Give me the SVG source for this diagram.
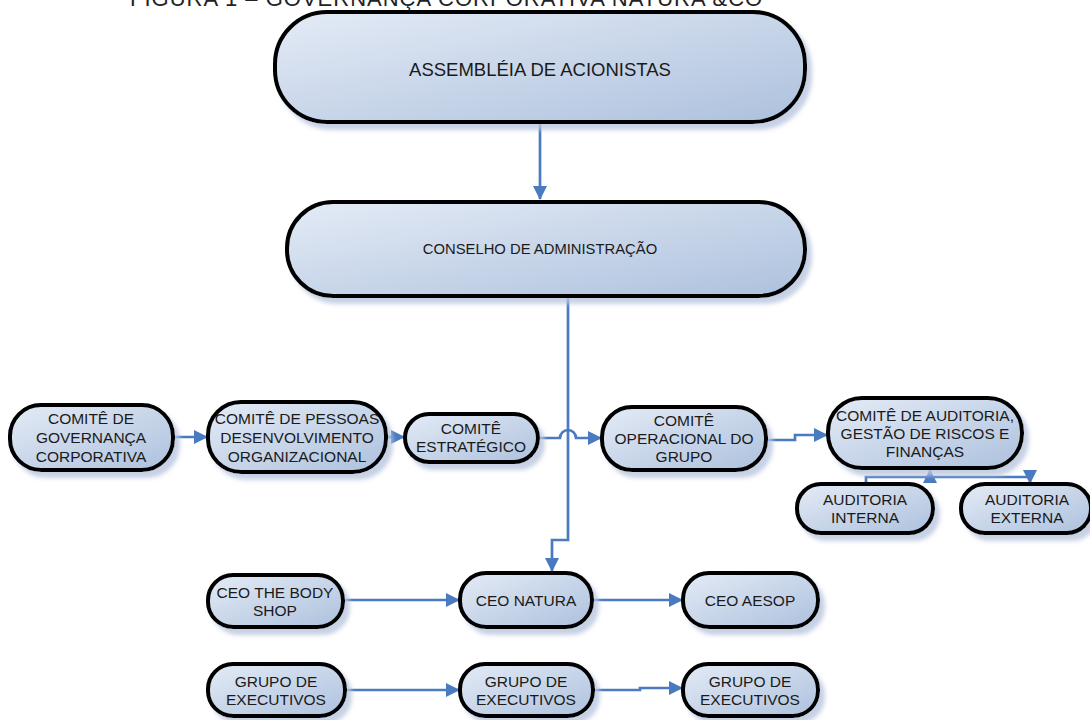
<svg xmlns="http://www.w3.org/2000/svg" width="1090" height="720" viewBox="0 0 1090 720">
<defs>
<linearGradient id="g" x1="0" y1="0" x2="1" y2="1">
<stop offset="0" stop-color="#e4ebf6"/>
<stop offset="1" stop-color="#adc1dd"/>
</linearGradient>
<filter id="sh" x="-10%" y="-20%" width="130%" height="150%">
<feDropShadow dx="5" dy="6" stdDeviation="2" flood-color="#b9c6df" flood-opacity="0.8"/>
</filter>
<marker id="ahb" markerWidth="14" markerHeight="14" refX="13" refY="7" orient="auto" markerUnits="userSpaceOnUse" viewBox="0 0 14 14">
<path d="M0,0 L14,7 L0,14 z" fill="#4a7bc0"/>
</marker>
</defs>
<style>
.n{fill:url(#g);stroke:#000;stroke-width:4;filter:url(#sh)}
.t{font-family:"Liberation Sans",Arial,sans-serif;font-size:15.5px;fill:#1a1a1a;text-anchor:middle;dominant-baseline:central}
.c{fill:none;stroke:#4a7bc0;stroke-width:2.7}
.title{font-family:"Liberation Sans",Arial,sans-serif;font-size:22px;fill:#222;letter-spacing:1px}
</style>
<text class="title" x="130" y="6">FIGURA 1 – GOVERNANÇA CORPORATIVA NATURA &amp;CO</text>
<g id="connectors">
<path class="c" d="M540,122 V199" marker-end="url(#ahb)"/>
<path class="c" d="M568,296 V540 H552 V571" marker-end="url(#ahb)"/>
<path class="c" d="M173,437 H207" marker-end="url(#ahb)"/>
<path class="c" d="M386,437 H404" marker-end="url(#ahb)"/>
<path class="c" d="M538,438 H560 A8,8 0 0 1 576,438 H601" marker-end="url(#ahb)"/>
<path class="c" d="M766,440 H795 V435 H827" marker-end="url(#ahb)"/>
<path class="c" d="M866,484 V477 H1030 V483" marker-end="url(#ahb)"/>
<path class="c" d="M930,477 V470" marker-end="url(#ahb)"/>
<path class="c" d="M343,600 H459" marker-end="url(#ahb)"/>
<path class="c" d="M592,600 H682" marker-end="url(#ahb)"/>
<path class="c" d="M345,690 H459" marker-end="url(#ahb)"/>
<path class="c" d="M593,690 H640 V688 H682" marker-end="url(#ahb)"/>
</g>
<g id="assembleia"><rect class="n" x="275" y="12" width="530" height="110" rx="52"/><text class="t" x="540" y="69" style="font-size:18.5px">ASSEMBLÉIA DE ACIONISTAS</text></g>
<g id="conselho"><rect class="n" x="287" y="202" width="518" height="94" rx="46"/><text class="t" x="540" y="249" style="font-size:14.8px">CONSELHO DE ADMINISTRAÇÃO</text></g>
<g id="gov"><rect class="n" x="10" y="405" width="163" height="65" rx="31"/><text class="t" x="91" y="418">COMITÊ DE</text><text class="t" x="91" y="437">GOVERNANÇA</text><text class="t" x="91" y="456">CORPORATIVA</text></g>
<g id="pessoas"><rect class="n" x="208" y="402" width="178" height="70" rx="33"/><text class="t" x="297" y="418">COMITÊ DE PESSOAS</text><text class="t" x="297" y="437">DESENVOLVIMENTO</text><text class="t" x="297" y="456">ORGANIZACIONAL</text></g>
<g id="estrategico"><rect class="n" x="405" y="414" width="133" height="48" rx="24"/><text class="t" x="471" y="428">COMITÊ</text><text class="t" x="471" y="446">ESTRATÉGICO</text></g>
<g id="operacional"><rect class="n" x="602" y="407" width="164" height="63" rx="30"/><text class="t" x="684" y="420">COMITÊ</text><text class="t" x="684" y="438">OPERACIONAL DO</text><text class="t" x="684" y="456">GRUPO</text></g>
<g id="auditoria"><rect class="n" x="828" y="398" width="194" height="70" rx="34"/><text class="t" x="925" y="415">COMITÊ DE AUDITORIA,</text><text class="t" x="925" y="433">GESTÃO DE RISCOS E</text><text class="t" x="925" y="451">FINANÇAS</text></g>
<g id="interna"><rect class="n" x="797" y="484" width="136" height="49" rx="24"/><text class="t" x="865" y="499">AUDITORIA</text><text class="t" x="865" y="517">INTERNA</text></g>
<g id="externa"><rect class="n" x="961" y="484" width="130" height="49" rx="24"/><text class="t" x="1027" y="499">AUDITORIA</text><text class="t" x="1027" y="517">EXTERNA</text></g>
<g id="bodyshop"><rect class="n" x="208" y="575" width="135" height="52" rx="25"/><text class="t" x="275" y="592">CEO THE BODY</text><text class="t" x="275" y="610">SHOP</text></g>
<g id="natura"><rect class="n" x="460" y="573" width="132" height="54" rx="26"/><text class="t" x="526" y="600">CEO NATURA</text></g>
<g id="aesop"><rect class="n" x="683" y="573" width="135" height="54" rx="26"/><text class="t" x="750" y="600">CEO AESOP</text></g>
<g id="grupo1"><rect class="n" x="208" y="664" width="137" height="52" rx="25"/><text class="t" x="276" y="681">GRUPO DE</text><text class="t" x="276" y="699">EXECUTIVOS</text></g>
<g id="grupo2"><rect class="n" x="460" y="664" width="133" height="52" rx="25"/><text class="t" x="526" y="681">GRUPO DE</text><text class="t" x="526" y="699">EXECUTIVOS</text></g>
<g id="grupo3"><rect class="n" x="683" y="664" width="135" height="52" rx="25"/><text class="t" x="750" y="681">GRUPO DE</text><text class="t" x="750" y="699">EXECUTIVOS</text></g>
</svg>
